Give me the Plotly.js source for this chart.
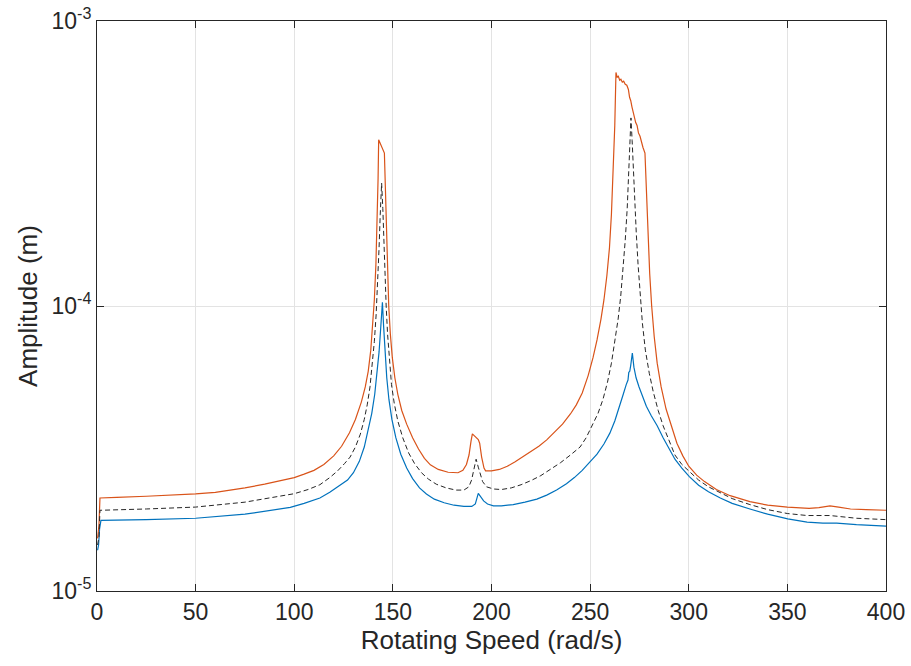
<!DOCTYPE html>
<html>
<head>
<meta charset="utf-8">
<script src="https://cdn.plot.ly/plotly-3.0.1.min.js"></script>
<style>html,body{margin:0;padding:0;background:#fff;}#chart{width:911px;height:666px;}</style>
</head>
<body>
<div id="chart"></div>
<script>
// Each series: [rotating speed (rad/s), amplitude (m)] pairs
const blueData = [[0.3,1.39e-5],[0.8,1.45e-5],[1.3,1.65e-5],[2,1.77e-5],[25,1.78e-5],[50,1.80e-5],[75,1.86e-5],[90,1.93e-5],[98,1.965e-5],[105,2.03e-5],[113,2.12e-5],[118,2.22e-5],[123,2.34e-5],[127,2.45e-5],[130,2.6e-5],[133,2.85e-5],[135.5,3.2e-5],[137.5,3.65e-5],[139.3,4.2e-5],[140.8,4.9e-5],[142,5.8e-5],[143,6.9e-5],[143.8,8.3e-5],[144.7,1.03e-4],[145.3,8.5e-5],[146,6.9e-5],[146.9,5.6e-5],[148,4.7e-5],[149.5,4.0e-5],[151.5,3.45e-5],[154,3.02e-5],[157,2.7e-5],[160,2.48e-5],[163.5,2.3e-5],[167,2.19e-5],[171,2.1e-5],[176,2.04e-5],[181,2.0e-5],[186,1.98e-5],[190,1.98e-5],[191.8,2.02e-5],[193.3,2.2e-5],[194.5,2.13e-5],[196,2.07e-5],[198,2.02e-5],[201,1.99e-5],[205,1.99e-5],[211,2.01e-5],[217,2.05e-5],[223,2.1e-5],[228,2.17e-5],[233,2.26e-5],[238,2.38e-5],[242,2.5e-5],[246,2.65e-5],[250,2.83e-5],[253.5,3.02e-5],[257,3.28e-5],[260,3.58e-5],[262.5,3.95e-5],[264.8,4.4e-5],[266.8,4.9e-5],[268.3,5.3e-5],[269.2,5.5e-5],[269.6,5.85e-5],[270.1,5.9e-5],[270.6,6.2e-5],[271.4,6.84e-5],[272.2,6.1e-5],[273.3,5.6e-5],[274.8,5.2e-5],[276.5,4.8e-5],[278.5,4.45e-5],[281,4.12e-5],[284,3.8e-5],[287,3.45e-5],[290,3.15e-5],[293,2.9e-5],[296.5,2.7e-5],[300.3,2.52e-5],[305,2.35e-5],[310,2.23e-5],[316,2.12e-5],[322,2.03e-5],[331,1.94e-5],[340,1.86e-5],[350.2,1.79e-5],[360,1.745e-5],[368,1.73e-5],[375,1.73e-5],[385,1.71e-5],[400,1.69e-5]];

const orangeData = [[0.3,1.53e-5],[1.0,1.7e-5],[1.5,2.12e-5],[2,2.12e-5],[10,2.13e-5],[25,2.15e-5],[40,2.17e-5],[50,2.19e-5],[60,2.22e-5],[75,2.30e-5],[85,2.37e-5],[95,2.45e-5],[100,2.50e-5],[105,2.57e-5],[110,2.65e-5],[115,2.78e-5],[120,2.98e-5],[124,3.22e-5],[128,3.59e-5],[131,4.0e-5],[134,4.6e-5],[136,5.2e-5],[137.5,5.9e-5],[138.8,7.0e-5],[139.8,8.5e-5],[140.6,1.05e-4],[141.4,1.4e-4],[142.1,2.0e-4],[142.5,2.8e-4],[142.8,3.83e-4],[145.7,3.44e-4],[146.2,2.6e-4],[146.7,1.9e-4],[147.3,1.35e-4],[147.9,1.0e-4],[148.7,8.0e-5],[149.7,6.6e-5],[151,5.6e-5],[152.5,4.9e-5],[154.5,4.3e-5],[157,3.85e-5],[160,3.45e-5],[163,3.15e-5],[166,2.92e-5],[169,2.77e-5],[173,2.67e-5],[178,2.61e-5],[183,2.6e-5],[185.5,2.65e-5],[187.3,2.78e-5],[188.6,3.0e-5],[189.6,3.35e-5],[190.3,3.56e-5],[193.3,3.4e-5],[194,3.3e-5],[195,2.95e-5],[196.2,2.7e-5],[197,2.64e-5],[200,2.64e-5],[204,2.67e-5],[208,2.74e-5],[212,2.84e-5],[216,2.96e-5],[220,3.08e-5],[224,3.22e-5],[228,3.39e-5],[232,3.6e-5],[236,3.85e-5],[240,4.18e-5],[243,4.5e-5],[246,4.95e-5],[249,5.7e-5],[251.5,6.6e-5],[253.5,7.6e-5],[255.5,9.0e-5],[257,1.05e-4],[258.5,1.28e-4],[259.8,1.6e-4],[260.8,2.1e-4],[261.8,3.0e-4],[262.5,4.3e-4],[263.1,6.6e-4],[263.7,6.35e-4],[264.3,6.4e-4],[265,6.2e-4],[265.6,6.25e-4],[266.3,6.1e-4],[267,6.15e-4],[267.8,6.0e-4],[268.6,5.95e-4],[269.4,5.75e-4],[270,5.4e-4],[270.6,5.25e-4],[271.2,5.0e-4],[271.9,4.75e-4],[272.5,4.65e-4],[273.1,4.4e-4],[273.8,4.3e-4],[274.5,4.05e-4],[275.3,3.94e-4],[276,3.75e-4],[276.8,3.6e-4],[277.8,3.44e-4],[278.5,2.6e-4],[279.3,1.8e-4],[280.2,1.3e-4],[281.2,1.0e-4],[282.5,7.8e-5],[284,6.3e-5],[286,5.2e-5],[288.5,4.35e-5],[291,3.8e-5],[294,3.3e-5],[297,2.98e-5],[300,2.74e-5],[304,2.55e-5],[308,2.42e-5],[314,2.27e-5],[321,2.16e-5],[331,2.06e-5],[340,2.0e-5],[350,1.97e-5],[361,1.95e-5],[366,1.96e-5],[371.6,1.99e-5],[376,1.97e-5],[382,1.94e-5],[390,1.93e-5],[400,1.92e-5]];

const blackData = [[0.3,1.45e-5],[1.0,1.55e-5],[1.5,1.92e-5],[2,1.92e-5],[25,1.94e-5],[50,1.97e-5],[75,2.05e-5],[90,2.13e-5],[100,2.195e-5],[107,2.27e-5],[113,2.36e-5],[118,2.5e-5],[122,2.64e-5],[125.5,2.8e-5],[128.3,2.95e-5],[131,3.2e-5],[133.5,3.55e-5],[135.5,4.0e-5],[137,4.5e-5],[138.4,5.2e-5],[139.6,6.2e-5],[140.6,7.5e-5],[141.5,9.3e-5],[142.3,1.2e-4],[143,1.6e-4],[143.6,2.1e-4],[144.3,2.70e-4],[144.9,2.2e-4],[145.4,1.7e-4],[146,1.3e-4],[146.6,1.0e-4],[147.3,8.0e-5],[148.2,6.4e-5],[149.3,5.3e-5],[150.7,4.55e-5],[152.5,3.95e-5],[155,3.45e-5],[158,3.05e-5],[161,2.8e-5],[164.5,2.6e-5],[168,2.47e-5],[172,2.37e-5],[177,2.3e-5],[182,2.26e-5],[186,2.26e-5],[188.5,2.32e-5],[189.9,2.45e-5],[191,2.68e-5],[192.2,2.9e-5],[193.3,2.72e-5],[194.3,2.55e-5],[195.5,2.42e-5],[197.5,2.32e-5],[201,2.28e-5],[205,2.27e-5],[210,2.3e-5],[215,2.36e-5],[220,2.44e-5],[225,2.54e-5],[230,2.67e-5],[235,2.82e-5],[240,3.0e-5],[244.9,3.2e-5],[248,3.45e-5],[251,3.8e-5],[254,4.2e-5],[256.5,4.7e-5],[258.8,5.4e-5],[260.8,6.3e-5],[262.6,7.5e-5],[264.2,9.0e-5],[265.5,1.08e-4],[266.7,1.35e-4],[267.8,1.7e-4],[268.8,2.2e-4],[269.6,2.9e-4],[270.2,3.6e-4],[270.7,4.57e-4],[271.3,3.8e-4],[271.9,3.0e-4],[272.6,2.3e-4],[273.4,1.8e-4],[274.3,1.4e-4],[275.3,1.08e-4],[276.5,8.7e-5],[278,7.0e-5],[280,5.8e-5],[282,5.0e-5],[284.5,4.3e-5],[287,3.8e-5],[290,3.35e-5],[293,3.0e-5],[296.5,2.78e-5],[300.6,2.62e-5],[305,2.45e-5],[310,2.32e-5],[316,2.21e-5],[322,2.11e-5],[331,2.01e-5],[340,1.93e-5],[350,1.87e-5],[360,1.84e-5],[371.6,1.84e-5],[385,1.8e-5],[400,1.78e-5]];

const xTicks = [0,50,100,150,200,250,300,350,400];
const yTickVals = [1e-5,1e-4,1e-3];
const yTickText = ['10<sup>-5</sup>','10<sup>-4</sup>','10<sup>-3</sup>'];

const col = (d, i) => d.map(p => p[i]);
const traces = [
  {x: col(blueData,0), y: col(blueData,1), type: 'scatter', mode: 'lines', line: {color: '#0072BD', width: 1.2}, hoverinfo: 'skip'},
  {x: col(orangeData,0), y: col(orangeData,1), type: 'scatter', mode: 'lines', line: {color: '#D95319', width: 1.2}, hoverinfo: 'skip'},
  {x: col(blackData,0), y: col(blackData,1), type: 'scatter', mode: 'lines', line: {color: '#262626', width: 1, dash: '5px,3px'}, hoverinfo: 'skip'}
];

const FAM = 'Arial, Liberation Sans, sans-serif';
const tickFont = {family: FAM, size: 23, color: '#262626'};
const titleFont = {family: FAM, size: 26, color: '#262626'};
const layout = {
  width: 911, height: 666,
  margin: {l: 97, r: 25, t: 21, b: 75},
  paper_bgcolor: '#fff', plot_bgcolor: '#fff',
  showlegend: false,
  font: tickFont,
  xaxis: {
    range: [0, 400], tickvals: xTicks, ticktext: xTicks.map(String),
    showgrid: true, gridcolor: '#e3e3e3', gridwidth: 1,
    zeroline: false, showline: true, linecolor: '#262626', linewidth: 1, mirror: 'ticks',
    ticks: 'inside', ticklen: 7, tickcolor: '#262626',
    tickfont: tickFont,
    title: {text: 'Rotating Speed (rad/s)', font: titleFont, standoff: 4}
  },
  yaxis: {
    type: 'log', range: [-5, -3], tickvals: yTickVals, ticktext: yTickText,
    showgrid: true, gridcolor: '#e3e3e3', gridwidth: 1,
    zeroline: false, showline: true, linecolor: '#262626', linewidth: 1, mirror: 'ticks',
    ticks: 'inside', ticklen: 7, tickcolor: '#262626',
    tickfont: tickFont,
    title: {text: 'Amplitude (m)', font: titleFont, standoff: 6}
  }
};

Plotly.newPlot('chart', traces, layout, {displayModeBar: false, staticPlot: true});
</script>
</body>
</html>
